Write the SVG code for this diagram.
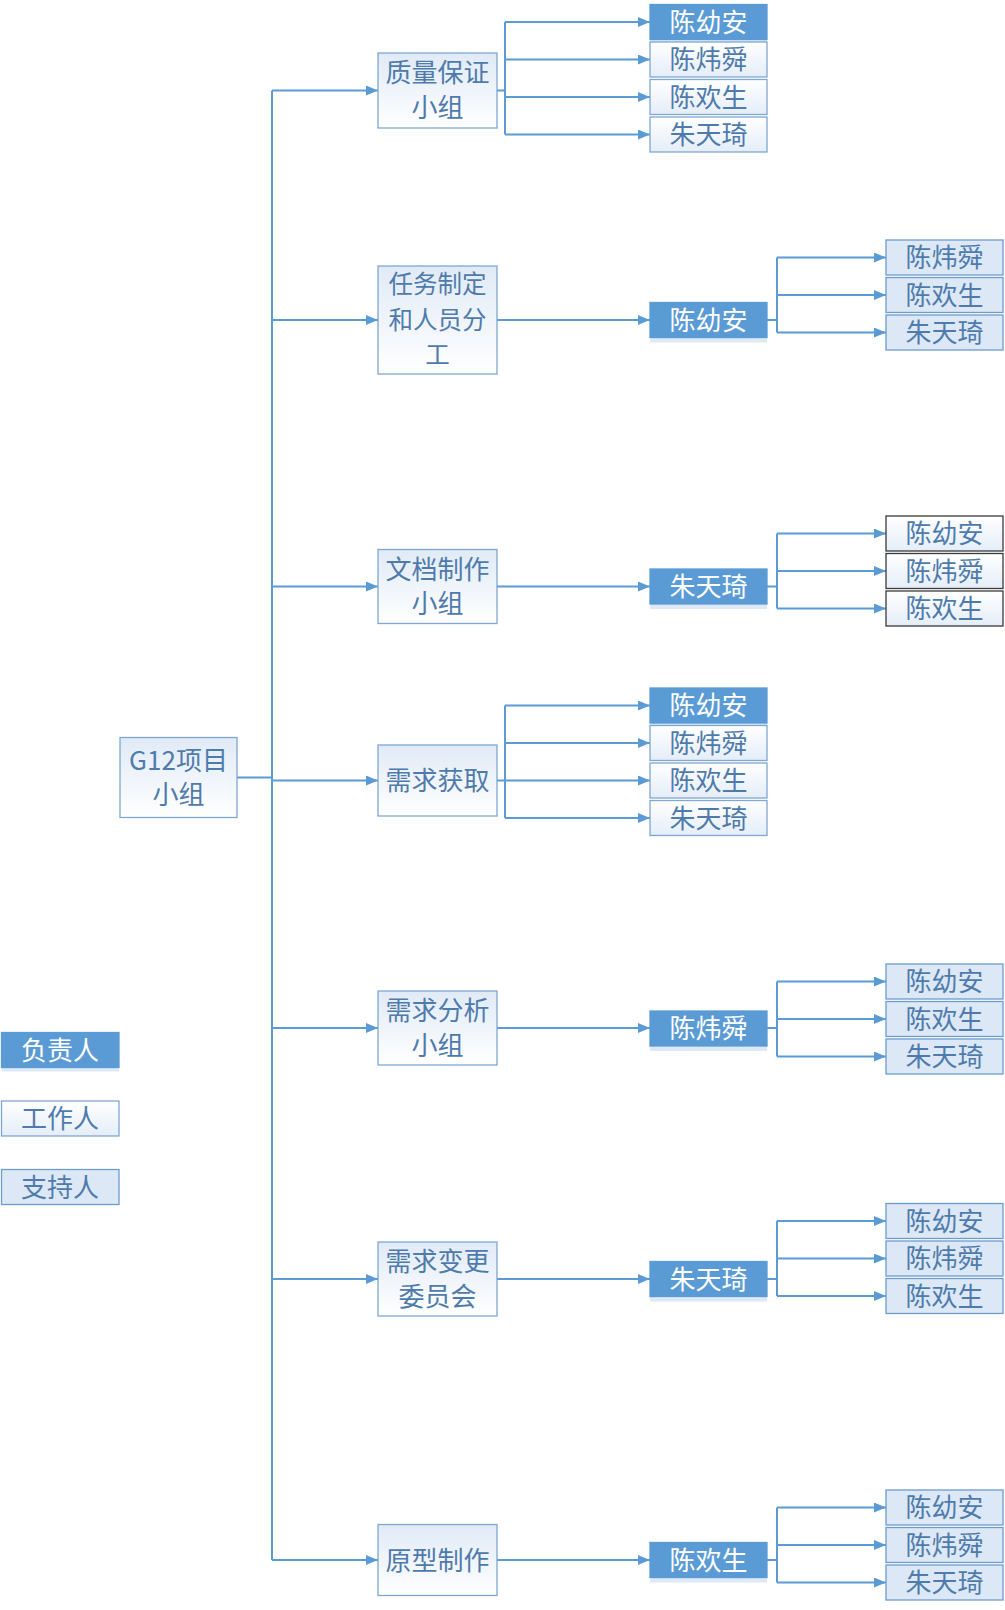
<svg xmlns="http://www.w3.org/2000/svg" width="1005" height="1610" viewBox="0 0 1005 1610">
<defs>
<linearGradient id="gw" x1="0" y1="0" x2="0" y2="1"><stop offset="0" stop-color="#e0eaf6"/><stop offset="1" stop-color="#ffffff"/></linearGradient>
<linearGradient id="gw2" x1="0" y1="0" x2="0" y2="1"><stop offset="0" stop-color="#ffffff"/><stop offset="1" stop-color="#e4edf8"/></linearGradient>
<marker id="ar" markerWidth="12" markerHeight="10" refX="12" refY="5" orient="auto" markerUnits="userSpaceOnUse"><path d="M0,0 L12,5 L0,10 Z" fill="#5b9bd5"/></marker>
</defs>
<style>
rect{stroke-width:1.3}
.lv{fill:url(#gw);stroke:#7fa7d3}
.lead{fill:#5b9bd5;stroke:#5b9bd5}
.shadow{fill:#dde9f6;stroke:none}
.work{fill:url(#gw2);stroke:#7fa7d3}
.sup{fill:#dce8f5;stroke:#6d9ccf}
.blk{fill:url(#gw2);stroke:#3a3a3a}
text{font-family:"Noto Sans CJK SC","Noto Sans",sans-serif;font-size:26px;fill:#4f7bac;text-anchor:middle}
.sm{font-size:24.5px}
.wt{fill:#ffffff}
.con{fill:none;stroke:#5b9bd5;stroke-width:2}
</style>
<rect width="1005" height="1610" fill="#ffffff"/>
<g id="connectors" class="con">
<path d="M237,777.5 H272"/>
<path d="M272,90.5 V1560"/>
<path d="M272,90.5 H378" marker-end="url(#ar)"/>
<path d="M272,320 H378" marker-end="url(#ar)"/>
<path d="M272,586.5 H378" marker-end="url(#ar)"/>
<path d="M272,780.5 H378" marker-end="url(#ar)"/>
<path d="M272,1028 H378" marker-end="url(#ar)"/>
<path d="M272,1279 H378" marker-end="url(#ar)"/>
<path d="M272,1560 H378" marker-end="url(#ar)"/>
<path d="M497,90.5 H505 M505,22 V134.5"/>
<path d="M505,22 H650" marker-end="url(#ar)"/>
<path d="M505,59.5 H650" marker-end="url(#ar)"/>
<path d="M505,97 H650" marker-end="url(#ar)"/>
<path d="M505,134.5 H650" marker-end="url(#ar)"/>
<path d="M497,320 H650" marker-end="url(#ar)"/>
<path d="M767,320 H777 M777,257.5 V332.5"/>
<path d="M777,257.5 H886" marker-end="url(#ar)"/>
<path d="M777,295 H886" marker-end="url(#ar)"/>
<path d="M777,332.5 H886" marker-end="url(#ar)"/>
<path d="M497,586.5 H650" marker-end="url(#ar)"/>
<path d="M767,586.5 H777 M777,533.5 V608.5"/>
<path d="M777,533.5 H886" marker-end="url(#ar)"/>
<path d="M777,571 H886" marker-end="url(#ar)"/>
<path d="M777,608.5 H886" marker-end="url(#ar)"/>
<path d="M497,780.5 H505 M505,705.5 V818"/>
<path d="M505,705.5 H650" marker-end="url(#ar)"/>
<path d="M505,743 H650" marker-end="url(#ar)"/>
<path d="M505,780.5 H650" marker-end="url(#ar)"/>
<path d="M505,818 H650" marker-end="url(#ar)"/>
<path d="M497,1028 H650" marker-end="url(#ar)"/>
<path d="M767,1028 H777 M777,981.5 V1056.5"/>
<path d="M777,981.5 H886" marker-end="url(#ar)"/>
<path d="M777,1019 H886" marker-end="url(#ar)"/>
<path d="M777,1056.5 H886" marker-end="url(#ar)"/>
<path d="M497,1279 H650" marker-end="url(#ar)"/>
<path d="M767,1279 H777 M777,1221 V1296"/>
<path d="M777,1221 H886" marker-end="url(#ar)"/>
<path d="M777,1258.5 H886" marker-end="url(#ar)"/>
<path d="M777,1296 H886" marker-end="url(#ar)"/>
<path d="M497,1560 H650" marker-end="url(#ar)"/>
<path d="M767,1560 H777 M777,1507.5 V1582.5"/>
<path d="M777,1507.5 H886" marker-end="url(#ar)"/>
<path d="M777,1545 H886" marker-end="url(#ar)"/>
<path d="M777,1582.5 H886" marker-end="url(#ar)"/>
</g>
<g id="root"><rect class="lv" x="120" y="737.5" width="117" height="80"/><text x="178.5" y="770">G12项目<tspan x="178.5" dy="34">小组</tspan></text></g>
<g id="qa"><rect class="lv" x="378" y="53" width="119" height="75"/><text x="437.5" y="82">质量保证<tspan x="437.5" dy="35">小组</tspan></text></g>
<g id="task"><rect class="lv" x="378" y="266" width="119" height="108"/><text class="sm" x="437.5" y="293">任务制定<tspan x="437.5" dy="35.5">和人员分</tspan><tspan x="437.5" dy="35.5">工</tspan></text></g>
<g id="doc"><rect class="lv" x="378" y="549.5" width="119" height="74"/><text x="437.5" y="578.5">文档制作<tspan x="437.5" dy="34.5">小组</tspan></text></g>
<g id="req"><rect class="lv" x="378" y="745" width="119" height="71"/><text x="437.5" y="790">需求获取</text></g>
<g id="ana"><rect class="lv" x="378" y="991" width="119" height="74"/><text x="437.5" y="1020">需求分析<tspan x="437.5" dy="34.5">小组</tspan></text></g>
<g id="ccb"><rect class="lv" x="378" y="1242" width="119" height="74"/><text x="437.5" y="1271">需求变更<tspan x="437.5" dy="34.5">委员会</tspan></text></g>
<g id="proto"><rect class="lv" x="378" y="1524.5" width="119" height="71"/><text x="437.5" y="1569.5">原型制作</text></g>
<g id="qa-1"><rect class="shadow" x="650" y="39.5" width="117" height="3"/><rect class="lead" x="650" y="4.5" width="117" height="35"/><text class="wt" x="708.5" y="31.5">陈幼安</text></g>
<g id="qa-2"><rect class="work" x="650" y="42" width="117" height="35"/><text x="708.5" y="69">陈炜舜</text></g>
<g id="qa-3"><rect class="work" x="650" y="79.5" width="117" height="35"/><text x="708.5" y="106.5">陈欢生</text></g>
<g id="qa-4"><rect class="work" x="650" y="117" width="117" height="35"/><text x="708.5" y="144">朱天琦</text></g>
<g id="task-1"><rect class="shadow" x="650" y="337.5" width="117" height="5"/><rect class="lead" x="650" y="302.5" width="117" height="35"/><text class="wt" x="708.5" y="329.5">陈幼安</text></g>
<g id="task-2"><rect class="sup" x="886" y="240" width="117" height="35"/><text x="944.5" y="267">陈炜舜</text></g>
<g id="task-3"><rect class="sup" x="886" y="277.5" width="117" height="35"/><text x="944.5" y="304.5">陈欢生</text></g>
<g id="task-4"><rect class="sup" x="886" y="315" width="117" height="35"/><text x="944.5" y="342">朱天琦</text></g>
<g id="doc-1"><rect class="shadow" x="650" y="604" width="117" height="5"/><rect class="lead" x="650" y="569" width="117" height="35"/><text class="wt" x="708.5" y="596">朱天琦</text></g>
<g id="doc-2"><rect class="blk" x="886" y="516" width="117" height="35"/><text x="944.5" y="543">陈幼安</text></g>
<g id="doc-3"><rect class="blk" x="886" y="553.5" width="117" height="35"/><text x="944.5" y="580.5">陈炜舜</text></g>
<g id="doc-4"><rect class="blk" x="886" y="591" width="117" height="35"/><text x="944.5" y="618">陈欢生</text></g>
<g id="req-1"><rect class="shadow" x="650" y="723" width="117" height="3"/><rect class="lead" x="650" y="688" width="117" height="35"/><text class="wt" x="708.5" y="715">陈幼安</text></g>
<g id="req-2"><rect class="work" x="650" y="725.5" width="117" height="35"/><text x="708.5" y="752.5">陈炜舜</text></g>
<g id="req-3"><rect class="work" x="650" y="763" width="117" height="35"/><text x="708.5" y="790">陈欢生</text></g>
<g id="req-4"><rect class="work" x="650" y="800.5" width="117" height="35"/><text x="708.5" y="827.5">朱天琦</text></g>
<g id="ana-1"><rect class="shadow" x="650" y="1046" width="117" height="5"/><rect class="lead" x="650" y="1011" width="117" height="35"/><text class="wt" x="708.5" y="1038">陈炜舜</text></g>
<g id="ana-2"><rect class="sup" x="886" y="964" width="117" height="35"/><text x="944.5" y="991">陈幼安</text></g>
<g id="ana-3"><rect class="sup" x="886" y="1001.5" width="117" height="35"/><text x="944.5" y="1028.5">陈欢生</text></g>
<g id="ana-4"><rect class="sup" x="886" y="1039" width="117" height="35"/><text x="944.5" y="1066">朱天琦</text></g>
<g id="ccb-1"><rect class="shadow" x="650" y="1296.5" width="117" height="5"/><rect class="lead" x="650" y="1261.5" width="117" height="35"/><text class="wt" x="708.5" y="1288.5">朱天琦</text></g>
<g id="ccb-2"><rect class="sup" x="886" y="1203.5" width="117" height="35"/><text x="944.5" y="1230.5">陈幼安</text></g>
<g id="ccb-3"><rect class="sup" x="886" y="1241" width="117" height="35"/><text x="944.5" y="1268">陈炜舜</text></g>
<g id="ccb-4"><rect class="sup" x="886" y="1278.5" width="117" height="35"/><text x="944.5" y="1305.5">陈欢生</text></g>
<g id="proto-1"><rect class="shadow" x="650" y="1577.5" width="117" height="5"/><rect class="lead" x="650" y="1542.5" width="117" height="35"/><text class="wt" x="708.5" y="1569.5">陈欢生</text></g>
<g id="proto-2"><rect class="sup" x="886" y="1490" width="117" height="35"/><text x="944.5" y="1517">陈幼安</text></g>
<g id="proto-3"><rect class="sup" x="886" y="1527.5" width="117" height="35"/><text x="944.5" y="1554.5">陈炜舜</text></g>
<g id="proto-4"><rect class="sup" x="886" y="1565" width="117" height="35"/><text x="944.5" y="1592">朱天琦</text></g>
<g id="legend-lead"><rect class="shadow" x="1.5" y="1067.5" width="117.5" height="4"/><rect class="lead" x="1.5" y="1032.5" width="117.5" height="35"/><text class="wt" x="60" y="1059.5">负责人</text></g>
<g id="legend-work"><rect class="work" x="1.5" y="1101" width="117.5" height="35"/><text x="60" y="1128">工作人</text></g>
<g id="legend-sup"><rect class="sup" x="1.5" y="1169.5" width="117.5" height="35"/><text x="60" y="1196.5">支持人</text></g>
</svg>
